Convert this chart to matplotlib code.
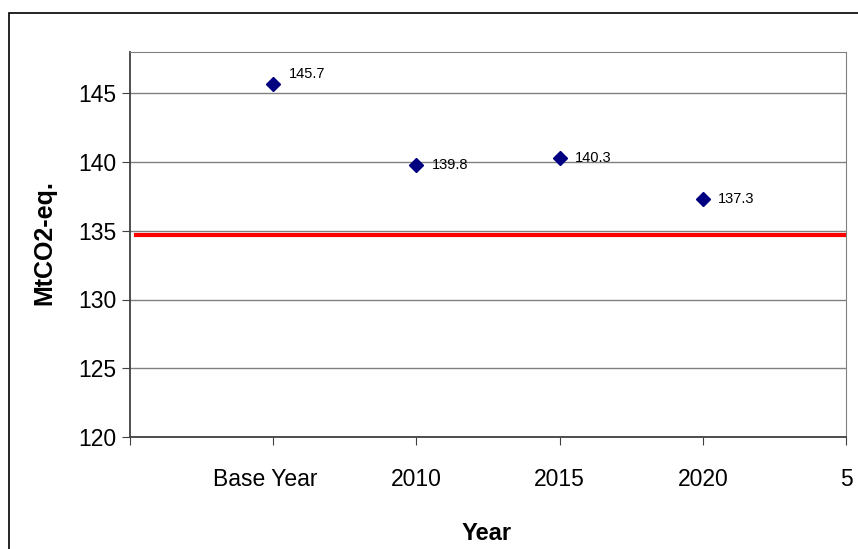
import matplotlib
matplotlib.use("Agg")
import matplotlib.pyplot as plt
from matplotlib.patches import Rectangle
from matplotlib.transforms import ScaledTranslation

# emissions per year (MtCO2-eq.)
years = ["Base Year", "2010", "2015", "2020"]
emissions = [145.7, 139.8, 140.3, 137.3]
target = 134.7
yticks = [120, 125, 130, 135, 140, 145]

plt.rcParams['font.family'] = ['Liberation Sans', 'DejaVu Sans']

fig = plt.figure(figsize=(8.58, 5.49), dpi=100)
W, H = 858, 549
ax = fig.add_axes([130 / W, 1 - 437 / H, (846 - 130) / W, (437 - 52) / H])

# outer chart frame
fig.patches.append(Rectangle((9 / W, -0.05), 1.2, 1 - 13 / H + 0.05,
                             transform=fig.transFigure, fill=False,
                             edgecolor='black', linewidth=1.2))

xpos = list(range(1, len(years) + 1))
ax.set_xlim(0, 5)
ax.set_ylim(120, 148)
ax.set_yticks(yticks)
ax.yaxis.grid(True, color='#808080', linewidth=1.0)
ax.set_axisbelow(True)

ax.axhline(target, xmin=0.008, xmax=1, color='#ff0000', linewidth=3, zorder=3)
ax.plot(xpos, emissions, linestyle='none', marker='D', markersize=7,
        color='#000080', zorder=4)
for x, v in zip(xpos, emissions):
    dy = 7 if v > 145 else 0
    ax.annotate(f"{v}", (x, v), xytext=(11, dy), textcoords='offset points',
                fontsize=10.5, va='center', ha='left')

ax.set_xticks([0] + xpos + [5])
ax.set_xticklabels([""] + years + ["5"], fontsize=16.5)
ax.tick_params(axis='x', length=6, pad=16, color='#404040')
ax.tick_params(axis='y', length=6, labelsize=16.5, color='#404040', pad=4)
# "Base Year" sits a little left of its tick
lbl = ax.get_xticklabels()[1]
lbl.set_transform(lbl.get_transform() + ScaledTranslation(-0.08, 0, fig.dpi_scale_trans))

for s in ['top', 'right']:
    ax.spines[s].set_color('#808080')
for s in ['left', 'bottom']:
    ax.spines[s].set_color('#404040')
    ax.spines[s].set_linewidth(1.3)

fig.text(44 / W, 1 - 243 / H, "MtCO2-eq.", fontsize=18, fontweight='bold',
         rotation=90, ha='center', va='center')
fig.text(487 / W, 1 - 534 / H, "Year", fontsize=17, fontweight='bold',
         ha='center', va='center')

fig.savefig("out.png", dpi=100)
